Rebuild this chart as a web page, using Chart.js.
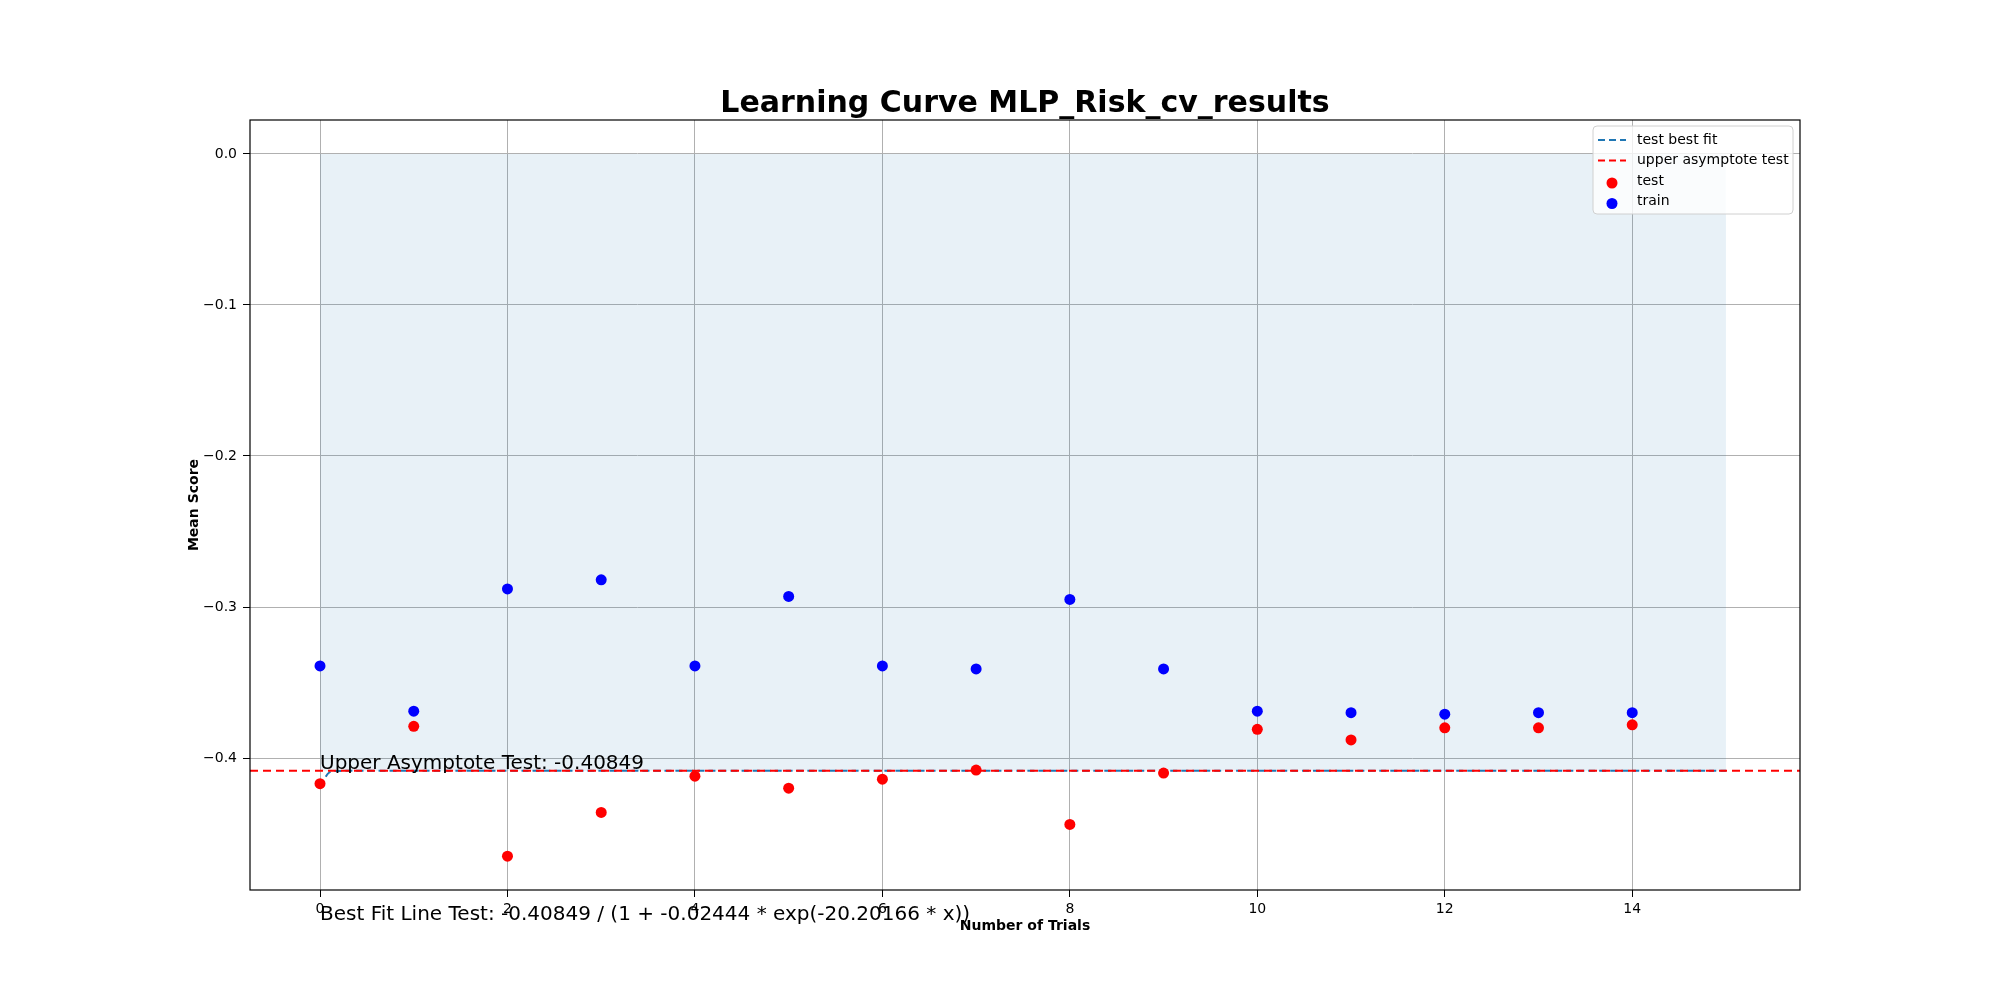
<!DOCTYPE html>
<html>
<head>
<meta charset="utf-8">
<script src="https://cdn.jsdelivr.net/npm/chart.js@4"></script>
<style>
  body { margin: 0; background: #fff; }
  #wrap { width: 2000px; height: 1000px; }
</style>
</head>
<body>
<div id="wrap"><canvas id="curveChart" width="2000" height="1000"></canvas></div>
<script>
// Data
const trials = [0, 1, 2, 3, 4, 5, 6, 7, 8, 9, 10, 11, 12, 13, 14];
const trainScores = [-0.339, -0.369, -0.288, -0.282, -0.339, -0.293, -0.339, -0.341, -0.295, -0.341, -0.369, -0.370, -0.371, -0.370, -0.370];
const testScores = [-0.417, -0.379, -0.465, -0.436, -0.412, -0.420, -0.414, -0.408, -0.444, -0.410, -0.381, -0.388, -0.380, -0.380, -0.378];
const fitX = [0, 0.05, 0.1, 0.2, 0.4, 15];
const fitY = [-0.4187, -0.4136, -0.4095, -0.4086, -0.40849, -0.40849];
const asymptote = -0.40849;
const xTicks = [0, 2, 4, 6, 8, 10, 12, 14];
const yTicks = [0, -0.1, -0.2, -0.3, -0.4];
const xRange = [-0.747, 15.79];
const yRange = [-0.4874, 0.0225];

const FONT = "'DejaVu Sans', sans-serif";

const pts = (xs, ys) => xs.map((x, i) => ({ x: x, y: ys[i] }));

// Draws title, axis titles, annotations and a matplotlib-like legend
const extras = {
    id: 'extras',
    afterDraw(chart) {
        const ctx = chart.ctx;
        const a = chart.chartArea;
        const xs = chart.scales.x, ys = chart.scales.y;
        ctx.save();
        ctx.fillStyle = '#000';
        ctx.textAlign = 'center';
        ctx.textBaseline = 'alphabetic';
        ctx.font = 'bold 30px ' + FONT;
        ctx.fillText('Learning Curve MLP_Risk_cv_results', (a.left + a.right) / 2, 112);

        ctx.font = 'bold 14px ' + FONT;
        ctx.fillText('Number of Trials', (a.left + a.right) / 2, 930);
        ctx.save();
        ctx.translate(198, (a.top + a.bottom) / 2);
        ctx.rotate(-Math.PI / 2);
        ctx.fillText('Mean Score', 0, 0);
        ctx.restore();

        ctx.textAlign = 'left';
        ctx.font = '20px ' + FONT;
        ctx.fillText('Upper Asymptote Test: -0.40849', xs.getPixelForValue(0), ys.getPixelForValue(asymptote) - 2);
        ctx.fillText('Best Fit Line Test: -0.40849 / (1 + -0.02444 * exp(-20.20166 * x))', xs.getPixelForValue(0), ys.getPixelForValue(-0.507));

        // legend
        const lx = 1593, ly = 126, lw = 200, lh = 88;
        ctx.fillStyle = 'rgba(255,255,255,0.8)';
        ctx.strokeStyle = '#d0d0d0';
        ctx.lineWidth = 1;
        ctx.beginPath();
        ctx.roundRect(lx, ly, lw, lh, 4);
        ctx.fill();
        ctx.stroke();
        ctx.font = '14px ' + FONT;
        ctx.textBaseline = 'middle';
        const rows = [
            { t: 'test best fit', kind: 'line', c: '#1f77b4' },
            { t: 'upper asymptote test', kind: 'line', c: '#ff0000' },
            { t: 'test', kind: 'dot', c: '#ff0000' },
            { t: 'train', kind: 'dot', c: '#0000ff' }
        ];
        rows.forEach((r, i) => {
            const cy = ly + 14 + i * 20.5;
            if (r.kind === 'line') {
                ctx.strokeStyle = r.c;
                ctx.lineWidth = 2;
                ctx.setLineDash([7, 4]);
                ctx.beginPath();
                ctx.moveTo(lx + 5, cy);
                ctx.lineTo(lx + 33, cy);
                ctx.stroke();
                ctx.setLineDash([]);
            } else {
                ctx.fillStyle = r.c;
                ctx.beginPath();
                ctx.arc(lx + 19, cy + 2, 5.5, 0, Math.PI * 2);
                ctx.fill();
            }
            ctx.fillStyle = '#000';
            ctx.fillText(r.t, lx + 44, cy);
        });
        ctx.restore();
    }
};

// Frame round the plot area
const frame = {
    id: 'frame',
    afterDatasetsDraw(chart) {
        const a = chart.chartArea, ctx = chart.ctx;
        ctx.save();
        ctx.strokeStyle = '#000';
        ctx.lineWidth = 1.2;
        ctx.strokeRect(a.left, a.top, a.right - a.left, a.bottom - a.top);
        ctx.restore();
    }
};

const ctx = document.getElementById('curveChart').getContext('2d');
new Chart(ctx, {
    type: 'scatter',
    data: {
        datasets: [
            {
                label: 'fill',
                type: 'line',
                data: pts([0, 15], [0, 0]),
                borderWidth: 0,
                pointRadius: 0,
                fill: { value: asymptote },
                backgroundColor: 'rgba(31, 119, 180, 0.1)',
                order: 5
            },
            {
                label: 'upper asymptote test',
                type: 'line',
                data: pts(xRange, [asymptote, asymptote]),
                borderColor: '#ff0000',
                borderDash: [8, 5],
                borderWidth: 2,
                pointRadius: 0,
                fill: false,
                order: 3
            },
            {
                label: 'test best fit',
                type: 'line',
                data: pts(fitX, fitY),
                borderColor: '#1f77b4',
                borderDash: [7, 4],
                borderWidth: 2,
                pointRadius: 0,
                tension: 0.4,
                fill: false,
                order: 4
            },
            {
                label: 'test',
                data: pts(trials, testScores),
                backgroundColor: '#ff0000',
                borderWidth: 0,
                pointRadius: 5.5,
                order: 1
            },
            {
                label: 'train',
                data: pts(trials, trainScores),
                backgroundColor: '#0000ff',
                borderWidth: 0,
                pointRadius: 5.5,
                order: 2
            }
        ]
    },
    options: {
        responsive: false,
        animation: false,
        layout: { padding: { left: 0, right: 200, top: 120, bottom: 0 } },
        plugins: {
            legend: { display: false },
            tooltip: { enabled: false }
        },
        scales: {
            x: {
                type: 'linear',
                min: xRange[0],
                max: xRange[1],
                afterBuildTicks: s => { s.ticks = xTicks.map(v => ({ value: v })); },
                afterFit: s => { s.height = 110; },
                grid: { color: '#b0b0b0', lineWidth: 1, tickLength: 7, tickColor: '#000' },
                border: { display: false },
                ticks: { color: '#000', font: { size: 14, family: FONT }, maxRotation: 0, padding: 4 }
            },
            y: {
                type: 'linear',
                min: yRange[0],
                max: yRange[1],
                afterBuildTicks: s => { s.ticks = yTicks.map(v => ({ value: v })); },
                afterFit: s => { s.width = 250; },
                grid: { color: '#b0b0b0', lineWidth: 1, tickLength: 7, tickColor: '#000' },
                border: { display: false },
                ticks: {
                    color: '#000',
                    font: { size: 14, family: FONT },
                    padding: 6,
                    callback: v => (v === 0 ? '0.0' : '\u2212' + Math.abs(v).toFixed(1))
                }
            }
        }
    },
    plugins: [extras, frame]
});
</script>
</body>
</html>
